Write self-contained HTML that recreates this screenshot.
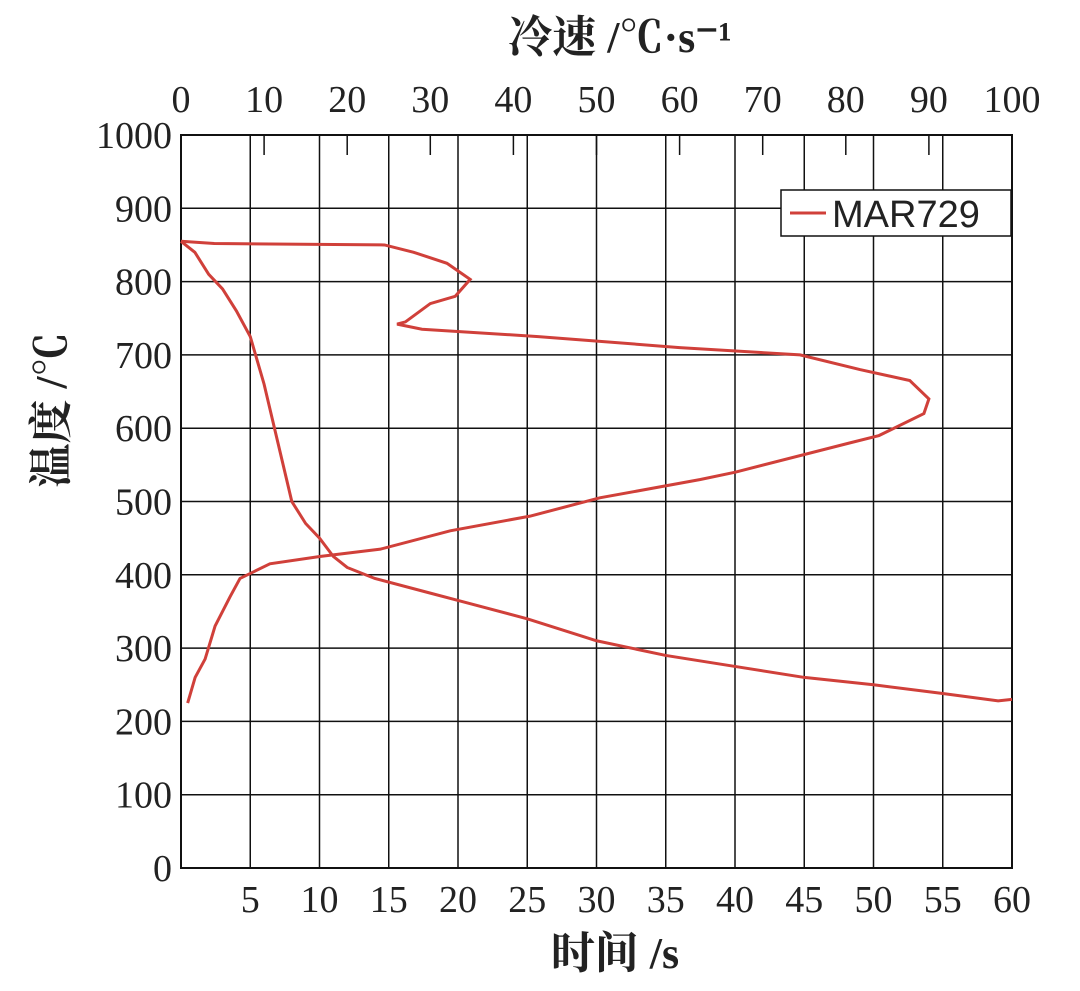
<!DOCTYPE html>
<html><head><meta charset="utf-8"><style>
body{margin:0;background:#fff}
svg text{font-family:"Liberation Serif","Noto Serif CJK SC",serif;fill:#222}
</style></head><body>
<svg id="c" width="1080" height="986" xmlns="http://www.w3.org/2000/svg"></svg>
<script>
const timeVals=[0,1,2,3,4,5,6,7,8,9,10,11,12,14,18,20,25,30,35,40,45,50,55,59,60];
const tempVsTime=[855,840,810,790,760,725,660,580,500,470,450,425,410,395,375,365,340,310,290,275,260,250,238,228,230];
const rateVals=[0,4,24.5,28,32,34.8,33,30,27,26,29,43,60,74.5,81.7,87.7,90,89.4,84,80.5,66.7,62.5,50.4,42,32.4,24,16.7,10.7,7.1,5.9,4.1,2.9,1.7,0.8];
const tempVsRate=[855,852,850,840,825,803,780,770,745,742,735,725,710,700,680,665,640,620,590,580,540,530,505,480,460,435,425,415,395,370,330,285,260,225];
const xTicks=[5,10,15,20,25,30,35,40,45,50,55,60];
const yTicks=[0,100,200,300,400,500,600,700,800,900,1000];
const topTicks=[0,10,20,30,40,50,60,70,80,90,100];
const L=181,R=1012,T=135,B=868;
const xs=t=>L+(t/60)*(R-L), ys=v=>B-(v/1000)*(B-T), xr=r=>L+(r/100)*(R-L);
const svg=document.getElementById('c');const NS='http://www.w3.org/2000/svg';
function mk(tag,at,txt){const e=document.createElementNS(NS,tag);for(const k in at)e.setAttribute(k,at[k]);if(txt!==undefined)e.textContent=txt;svg.appendChild(e);return e;}
let e;
xTicks.forEach(t=>{e=mk('line',{x1:xs(t),x2:xs(t),y1:T,y2:B,stroke:'#111','stroke-width':1.5});


e=mk('text',{x:xs(t),y:912,'font-size':38,'text-anchor':'middle'},t);

});
yTicks.forEach(v=>{e=mk('line',{x1:L,x2:R,y1:ys(v),y2:ys(v),stroke:'#111','stroke-width':1.5});


e=mk('text',{x:172,y:ys(v)+13,'font-size':38,'text-anchor':'end'},v);

});
topTicks.forEach(r=>{e=mk('line',{x1:xr(r),x2:xr(r),y1:T,y2:T+20,stroke:'#111','stroke-width':1.5});


e=mk('text',{x:xr(r),y:112,'font-size':38,'text-anchor':'middle'},r);

});
e=mk('rect',{x:L,y:T,width:R-L,height:B-T,fill:'none',stroke:'#111','stroke-width':2});


e=mk('polyline',{points:timeVals.map((t,i)=>xs(t)+','+ys(tempVsTime[i])).join(' '),fill:'none',stroke:'#d0403a','stroke-width':3});


e=mk('polyline',{points:rateVals.map((r,i)=>xr(r)+','+ys(tempVsRate[i])).join(' '),fill:'none',stroke:'#d0403a','stroke-width':3});


e=mk('rect',{x:781,y:190,width:230,height:46,fill:'#fff',stroke:'#111','stroke-width':1.5});


e=mk('line',{x1:790,x2:826,y1:213,y2:213,stroke:'#d0403a','stroke-width':3});


e=mk('text',{x:832,y:227,'font-size':38,style:'font-family:"Liberation Sans",sans-serif'},'MAR729');


e=mk('text',{x:615,y:968,'font-size':44,'text-anchor':'middle','font-weight':'bold'},'时间 /s');


e=mk('text',{x:620,y:52,'font-size':44,'text-anchor':'middle','font-weight':'bold'},'冷速 /℃·s⁻¹');


e=mk('text',{x:0,y:0,'font-size':44,'text-anchor':'middle','font-weight':'bold',transform:'translate(66,410) rotate(-90)'},'温度 /℃');


</script>
</body></html>
